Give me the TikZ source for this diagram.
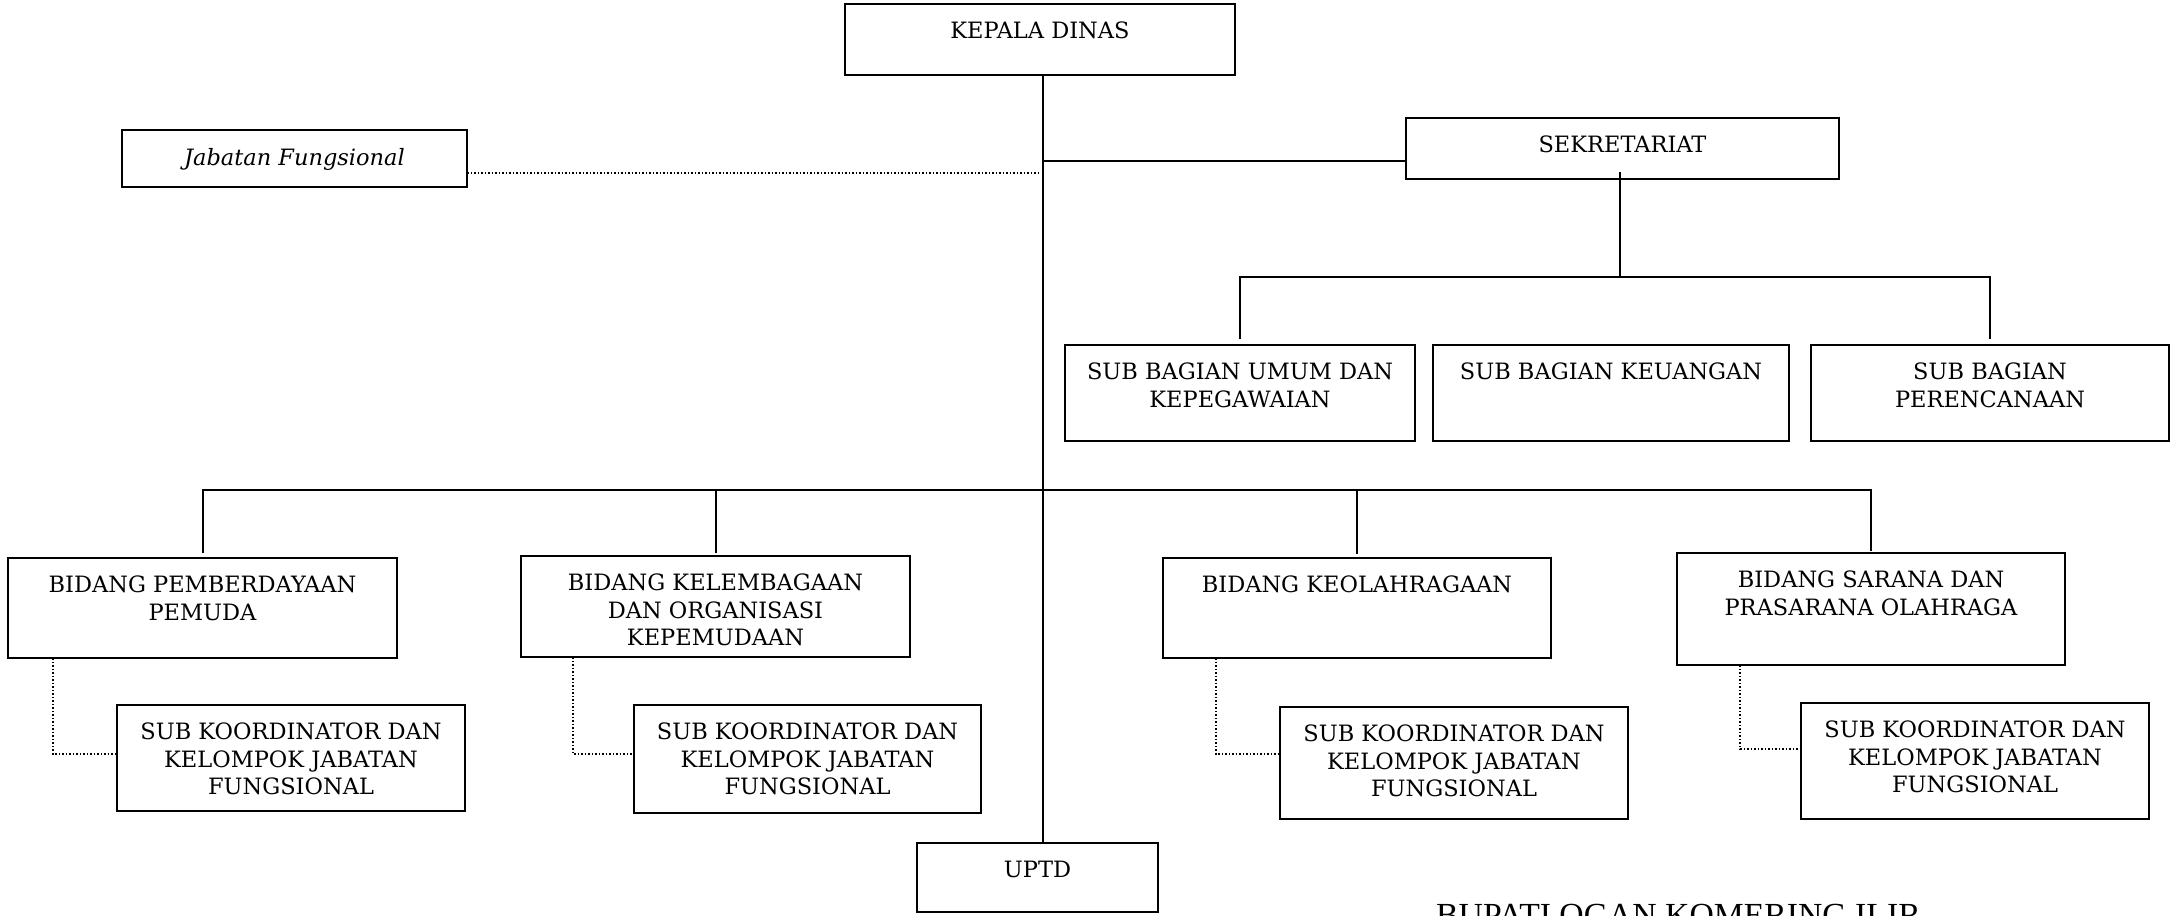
\documentclass[tikz,border=0pt]{standalone}
\usepackage{fontspec}
\setmainfont{DejaVu Serif}
\newfontfamily\bupatifont{Liberation Serif}
\usetikzlibrary{fit}
\tikzset{
  boxst/.style={draw, line width=2.7pt, inner sep=0pt, outer sep=0pt, rectangle},
  txt/.style={font=\fontsize{22.5}{27.3}\selectfont, align=center, inner sep=0pt, anchor=north},
  conn/.style={line width=2pt},
  dotconn/.style={line width=1.7pt, dash pattern=on 1.7pt off 1.8pt},
}
\newcommand\orgbox[3]{%
  \node[boxst, fit={#2}] (#1) {};
  \node[txt] (#1t) at ([yshift=-17.8pt]#1.north) {#3};
}
\begin{document}
\begin{tikzpicture}[x=1pt,y=-1pt]
\useasboundingbox (0,0) rectangle (2175,915);
\clip (0,0) rectangle (2175,915);

% boxes
\orgbox{kepala}{(845,4) (1235,75)}{KEPALA DINAS}
\orgbox{jab}{(122,130) (467,187)}{\itshape Jabatan Fungsional}
\orgbox{sek}{(1406,118) (1839,179)}{SEKRETARIAT}
\orgbox{subumum}{(1065,345) (1415,441)}{SUB BAGIAN UMUM DAN\\KEPEGAWAIAN}
\orgbox{subkeu}{(1433,345) (1789,441)}{SUB BAGIAN KEUANGAN}
\orgbox{subper}{(1811,345) (2169,441)}{SUB BAGIAN\\PERENCANAAN}
\orgbox{b1}{(8,558) (397,658)}{BIDANG PEMBERDAYAAN\\PEMUDA}
\orgbox{b2}{(521,556) (910,657)}{BIDANG KELEMBAGAAN\\DAN ORGANISASI\\KEPEMUDAAN}
\orgbox{b3}{(1163,558) (1551,658)}{BIDANG KEOLAHRAGAAN}
\orgbox{b4}{(1677,553) (2065,665)}{BIDANG SARANA DAN\\PRASARANA OLAHRAGA}
\orgbox{k1}{(117,705) (465,811)}{SUB KOORDINATOR DAN\\KELOMPOK JABATAN\\FUNGSIONAL}
\orgbox{k2}{(634,705) (981,813)}{SUB KOORDINATOR DAN\\KELOMPOK JABATAN\\FUNGSIONAL}
\orgbox{k3}{(1280,707) (1628,819)}{SUB KOORDINATOR DAN\\KELOMPOK JABATAN\\FUNGSIONAL}
\orgbox{k4}{(1801,703) (2149,819)}{SUB KOORDINATOR DAN\\KELOMPOK JABATAN\\FUNGSIONAL}
\orgbox{uptd}{(917,843) (1158,912)}{UPTD}

\node[font=\bupatifont\fontsize{33.7}{40}\selectfont, anchor=north west, inner sep=0pt] (bupati) at (1436,904) {BUPATI OGAN KOMERING ILIR};

% junction coordinates
\coordinate (sx) at (1043,0);
\coordinate (j1) at (1043,161);
\coordinate (j0) at (1039,173);
\coordinate (s1) at (1620,277);
\coordinate (bb) at (1043,490);
\coordinate (c1) at (53,754);
\coordinate (c2) at (573,754);
\coordinate (c3) at (1216,754);
\coordinate (c4) at (1740,749);

% connectors
\draw[conn] (kepala.south -| sx) -- (uptd.north -| sx);
\draw[conn] (j1) -- (j1 -| sek.west);
\draw[dotconn] (jab.east |- j0) -- (j0);
\draw[conn] (s1 |- sek.south) ++(0,-7) -- (s1);
\draw[conn] ([yshift=6pt]subumum.north) |- (s1) -| ([yshift=6pt]subper.north);
\draw[conn] ([yshift=5pt]b1.north) |- (bb) -| ([yshift=2pt]b4.north);
\draw[conn] ([yshift=3pt]b2.north) -- (b2.north |- bb);
\draw[conn] ([yshift=4pt]b3.north) -- (b3.north |- bb);

\draw[dotconn] (b1.south -| c1) -- (c1) -- (c1 -| k1.west);
\draw[dotconn] (b2.south -| c2) -- (c2) -- (c2 -| k2.west);
\draw[dotconn] (b3.south -| c3) -- (c3) -- (c3 -| k3.west);
\draw[dotconn] (b4.south -| c4) -- (c4) -- (c4 -| k4.west);
\end{tikzpicture}
\end{document}
